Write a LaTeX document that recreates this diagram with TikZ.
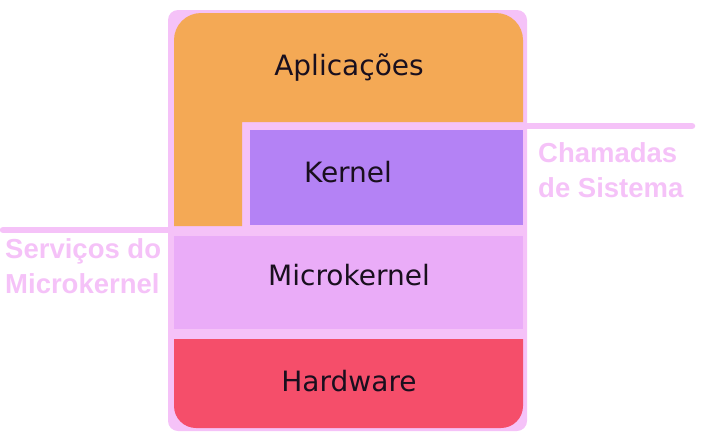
\documentclass[tikz,border=0pt]{standalone}
\usepackage{fontspec}
\setmainfont{DejaVu Sans}
\newfontfamily\labelfont{Liberation Sans}
\definecolor{framepink}{RGB}{245,194,248}
\definecolor{apporange}{RGB}{244,169,85}
\definecolor{kernpurple}{RGB}{180,130,245}
\definecolor{micropink}{RGB}{234,172,248}
\definecolor{hwred}{RGB}{245,78,106}
\definecolor{txtdark}{RGB}{25,15,30}
\tikzset{
  layertext/.style={text=txtdark, font=\fontsize{28}{30}\selectfont, inner sep=0pt},
  sidelabel/.style={text=framepink, font=\labelfont\bfseries\fontsize{27.5}{35}\selectfont, align=left, inner sep=0pt, anchor=north west},
  sideline/.style={draw=framepink, line width=6.5pt, line cap=round}
}
\begin{document}
\begin{tikzpicture}[x=1pt,y=-1pt]
\useasboundingbox (0,0) rectangle (704,439);
% frame
\fill[framepink, rounded corners=10pt] (168,10) rectangle (527,431);
% applications
\fill[apporange] (174,226) -- (174,40) arc[start angle=180,end angle=270,radius=27] -- (496,13) arc[start angle=270,end angle=360,radius=27] -- (523,122) -- (242,122) -- (242,226) -- cycle;
% kernel
\fill[kernpurple] (250,130) rectangle (523,225);
% microkernel
\fill[micropink] (174,236) rectangle (523,329);
% hardware
\fill[hwred] (174,339) -- (523,339) -- (523,406) arc[start angle=0,end angle=90,radius=22] -- (196,428) arc[start angle=90,end angle=180,radius=22] -- cycle;
% lines
\draw[sideline] (3,230) -- (170,230);
\draw[sideline] (525,126) -- (692,126);
% texts
\node[layertext] (apl) at (349,68) {Aplicações};
\node[layertext] (ker) at (348,172) {Kernel};
\node[layertext] (mic) at (349,275) {Microkernel};
\node[layertext] (hw) at (349,381) {Hardware};
\node[sidelabel] (cham) at (538,142) {Chamadas\\de Sistema};
\node[sidelabel] (serv) at (5,238) {Serviços do\\Microkernel};
\end{tikzpicture}
\end{document}
